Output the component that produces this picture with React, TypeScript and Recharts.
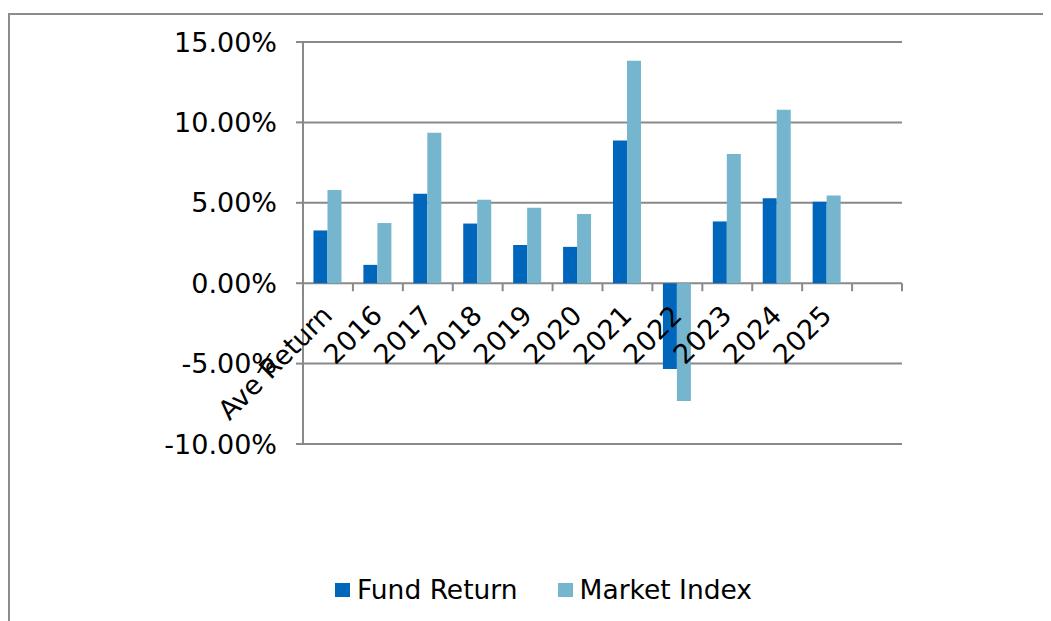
import React from 'react';
import { BarChart, Bar, XAxis, YAxis, CartesianGrid } from 'recharts';

const categories = ['Ave Return', '2016', '2017', '2018', '2019', '2020', '2021', '2022', '2023', '2024', '2025', ''];
const fundReturn = [0.0328, 0.0114, 0.0556, 0.0371, 0.0238, 0.0226, 0.0888, -0.0534, 0.0384, 0.0529, 0.0506, null];
const marketIndex = [0.0579, 0.0374, 0.0936, 0.0519, 0.0469, 0.043, 0.1384, -0.0733, 0.0803, 0.1079, 0.0545, null];
const yTicks = [-0.1, -0.05, 0, 0.05, 0.1, 0.15];

const data = categories.map((name, i) => ({ name, fund: fundReturn[i], market: marketIndex[i] }));

const W = 1043;
const H = 613;
const MARGIN = { top: 34, right: 149, left: 0, bottom: 0 };
const Y_AXIS_W = 295;
const X_AXIS_H = 177;
const PLOT_W = W - MARGIN.left - MARGIN.right - Y_AXIS_W;
const PLOT_H = H - MARGIN.top - MARGIN.bottom - X_AXIS_H;
const Y_MIN = -0.1;
const Y_MAX = 0.15;

const FONT = '"DejaVu Sans", Verdana, sans-serif';
const GRID = '#898989';
const FUND = '#0066bc';
const MARKET = '#75b5ce';

// category labels hang from the zero line, like Excel does
const XTick = (props: any) => {
  const { x, y, payload, index } = props;
  const band = PLOT_W / categories.length;
  const y0 = y - (PLOT_H * (0 - Y_MIN)) / (Y_MAX - Y_MIN);
  const tx = x + 6;
  const ty = y0 + 34;
  return (
    <g>
      <line x1={x - band / 2} x2={x - band / 2} y1={y0} y2={y0 + 8} stroke={GRID} strokeWidth={2} />
      {index === categories.length - 1 && (
        <line x1={x + band / 2} x2={x + band / 2} y1={y0} y2={y0 + 8} stroke={GRID} strokeWidth={2} />
      )}
      <text
        x={tx}
        y={ty}
        transform={`rotate(-45, ${tx}, ${ty})`}
        textAnchor="end"
        fill="#000"
        fontSize={27}
        fontFamily={FONT}
      >
        {payload.value}
      </text>
    </g>
  );
};

export default function App() {
  return (
    <div style={{ position: 'relative', width: W, height: H, background: '#fff' }}>
      <div style={{ position: 'absolute', left: 0, top: 5, width: W, height: 2, background: '#8c8c8c' }} />
      <div style={{ position: 'absolute', left: 0, top: 5, width: 2, height: H - 5, background: '#8c8c8c' }} />
      <BarChart
        width={W}
        height={H}
        data={data}
        margin={MARGIN}
        barCategoryGap="21%"
        barGap={0}
        style={{ position: 'absolute', left: 0, top: 0 }}
      >
        <CartesianGrid vertical={false} stroke={GRID} strokeWidth={2} />
        <YAxis
          width={Y_AXIS_W}
          domain={[Y_MIN, Y_MAX]}
          ticks={yTicks}
          interval={0}
          tickFormatter={(v: number) => `${(v * 100).toFixed(2)}%`}
          axisLine={{ stroke: GRID, strokeWidth: 2 }}
          tickLine={{ stroke: GRID, strokeWidth: 2 }}
          tickSize={7}
          tickMargin={19}
          tick={{ fill: '#000', fontSize: 27, fontFamily: FONT }}
        />
        <Bar dataKey="fund" fill={FUND} isAnimationActive={false} />
        <Bar dataKey="market" fill={MARKET} isAnimationActive={false} />
        <XAxis
          dataKey="name"
          height={X_AXIS_H}
          interval={0}
          axisLine={false}
          tickLine={false}
          tickSize={0}
          tickMargin={0}
          tick={<XTick />}
        />
      </BarChart>
      <div
        style={{
          position: 'absolute',
          left: 327,
          top: 566,
          height: 32,
          display: 'flex',
          alignItems: 'center',
          fontFamily: FONT,
          fontSize: 26.5,
          lineHeight: '32px',
          color: '#000',
        }}
      >
        <span style={{ display: 'inline-block', width: 15, height: 14, background: FUND, marginRight: 7 }} />
        <span>Fund Return</span>
        <span style={{ display: 'inline-block', width: 15, height: 14, background: MARKET, marginLeft: 40, marginRight: 7 }} />
        <span>Market Index</span>
      </div>
    </div>
  );
}
